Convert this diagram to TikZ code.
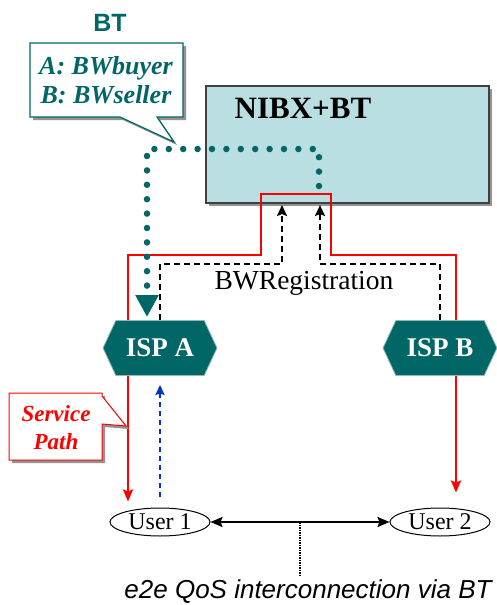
\documentclass[tikz,border=0pt]{standalone}
\usepackage{fontspec}
\setmainfont{Liberation Serif}
\newfontfamily\sansf{Liberation Sans}
\usetikzlibrary{arrows.meta,shapes.symbols,shapes.geometric,shadows,calc}
\definecolor{bt}{RGB}{0,102,102}
\definecolor{boxblue}{RGB}{185,223,226}
\definecolor{spred}{RGB}{255,0,0}
\definecolor{regblue}{RGB}{0,51,204}
\begin{document}
\begin{tikzpicture}[x=1pt,y=-1pt,
  shadowed/.style={drop shadow={shadow xshift=3pt,shadow yshift=-3pt,fill=gray!85,opacity=1}},
  isp/.style={signal, signal to=west and east, signal pointer angle=130, fill=bt,
    draw=bt!45!white, line width=0.8pt, minimum width=114pt, minimum height=55pt,
    inner sep=0pt, text=white, font=\fontsize{27}{29}\selectfont\bfseries},
  user/.style={ellipse, draw=black, line width=1pt, fill=white, minimum width=100pt,
    minimum height=28pt, inner sep=0pt, font=\fontsize{24}{26}\selectfont},
  servicered/.style={draw=spred, line width=2.5pt,
    {Stealth[length=12pt,width=10pt,inset=2pt]}-{Stealth[length=12pt,width=10pt,inset=2pt]}},
  bwreg/.style={draw=black, line width=2.2pt, dash pattern=on 6pt off 4pt,
    -{Stealth[length=11pt,width=10pt,inset=2pt]}},
  btdots/.style={draw=bt, line width=6.5pt, line cap=round, line join=round,
    dash pattern=on 0pt off 14.4pt, -{Triangle[length=22pt,width=22pt]}},
  bluereg/.style={draw=regblue, line width=2pt, dash pattern=on 5pt off 4pt,
    -{Stealth[length=10pt,width=9pt,inset=1.5pt]}},
  userlink/.style={draw=black, line width=2pt,
    {Stealth[length=12pt,width=10pt,inset=2pt]}-{Stealth[length=12pt,width=10pt,inset=2pt]}},
  qosdot/.style={draw=black, line width=1.5pt, dash pattern=on 1.5pt off 1pt},
  calltext/.style={text=bt, font=\fontsize{26}{28}\selectfont\bfseries\itshape, anchor=base, inner sep=0pt},
  redtext/.style={text=spred, font=\fontsize{23}{25}\selectfont\bfseries\itshape, anchor=base, inner sep=0pt}
]
\useasboundingbox (0,0) rectangle (497,605);

% BT label and callout
\node[text=bt, font=\sansf\bfseries\fontsize{25}{27}\selectfont, inner sep=0pt] (btlabel) at (110,23) {BT};
\path[draw=bt, line width=1.2pt, fill=white, shadowed]
  (30,43) -- (183,43) -- (183,117) -- (157,117) -- (174,142) -- (120,117) -- (30,117) -- cycle;
\node[calltext] (la) at (106,74) {A: BWbuyer};
\node[calltext] (lb) at (106,103) {B: BWseller};

% NIBX+BT box
\node[draw=black!75, line width=1.5pt, fill=boxblue, shadowed, minimum width=283pt,
  minimum height=117pt, anchor=north west, inner sep=0pt] (nibx) at (205,85) {};
\node[font=\fontsize{31}{33}\selectfont\bfseries, inner sep=0pt] (nibxlabel) at (303,108) {NIBX+BT};

% users
\node[user] (u1) at (160,522) {User 1};
\node[user] (u2) at (440,522) {User 2};

% coordinates
\coordinate (tipL) at ($(u1.north)+(-32,-6)$);
\coordinate (tipR) at ($(u2.north)+(16,-15)$);
\coordinate (ra) at (128,255);
\coordinate (rb) at (261,255);
\coordinate (rc) at (261,194);
\coordinate (rd) at (331,194);
\coordinate (re) at (331,255);
\coordinate (rf) at (456,255);
\coordinate (ka) at (282,264);
\coordinate (kb) at (282,205);
\coordinate (kc) at (320,264);
\coordinate (kd) at (320,205);
\coordinate (da) at (319,186);
\coordinate (db) at (319,149);
\coordinate (dc) at (147,149);

% service path (red)
\draw[servicered] (tipL) -- (ra) -- (rb) -- (rc) -- (rd) -- (re) -- (rf) -- (tipR);

% ISP positions
\path (160,348) coordinate (ispApos) (440,348) coordinate (ispBpos);

% BW registration (black dashed)
\draw[bwreg] ($(ispApos)+(0,-28)$) -- (ispApos |- ka) -- (ka) -- (kb);
\draw[bwreg] ($(ispBpos)+(0,-28)$) -- (ispBpos |- kc) -- (kc) -- (kd);
\node[font=\fontsize{27.5}{29}\selectfont, inner sep=0pt] (bwr) at (304,283) {BWRegistration};

% teal dotted
\draw[btdots] (da) -- (db) -- (dc) -- (dc |- 0,317);

% ISP hexagons
\node[isp] (ispA) at (ispApos) {ISP A};
\node[isp] (ispB) at (ispBpos) {ISP B};

% blue dashed
\draw[bluereg] ($(u1.north)+(0,-11)$) -- ($(ispA.south)+(0,9)$);

% service path callout
\path[draw=spred, line width=1pt, fill=white, shadowed]
  (9,393) -- (102,393) -- (102,396) -- (126,426) -- (102,424) -- (102,460) -- (9,460) -- cycle;
\node[redtext] (sp1) at (56,421) {Service};
\node[redtext] (sp2) at (56,449) {Path};

% user link
\draw[userlink] (u1.east) -- (u2.west);
\coordinate (mid) at ($(u1.east)!0.5!(u2.west)$);
\coordinate (qosend) at ($(mid)+(0,53)$);
\draw[qosdot] (mid) -- (qosend);
\node[anchor=base, font=\sansf\itshape\fontsize{26}{28}\selectfont, inner sep=0pt] (qos) at (308,598) {e2e QoS interconnection via BT};
\end{tikzpicture}
\end{document}
